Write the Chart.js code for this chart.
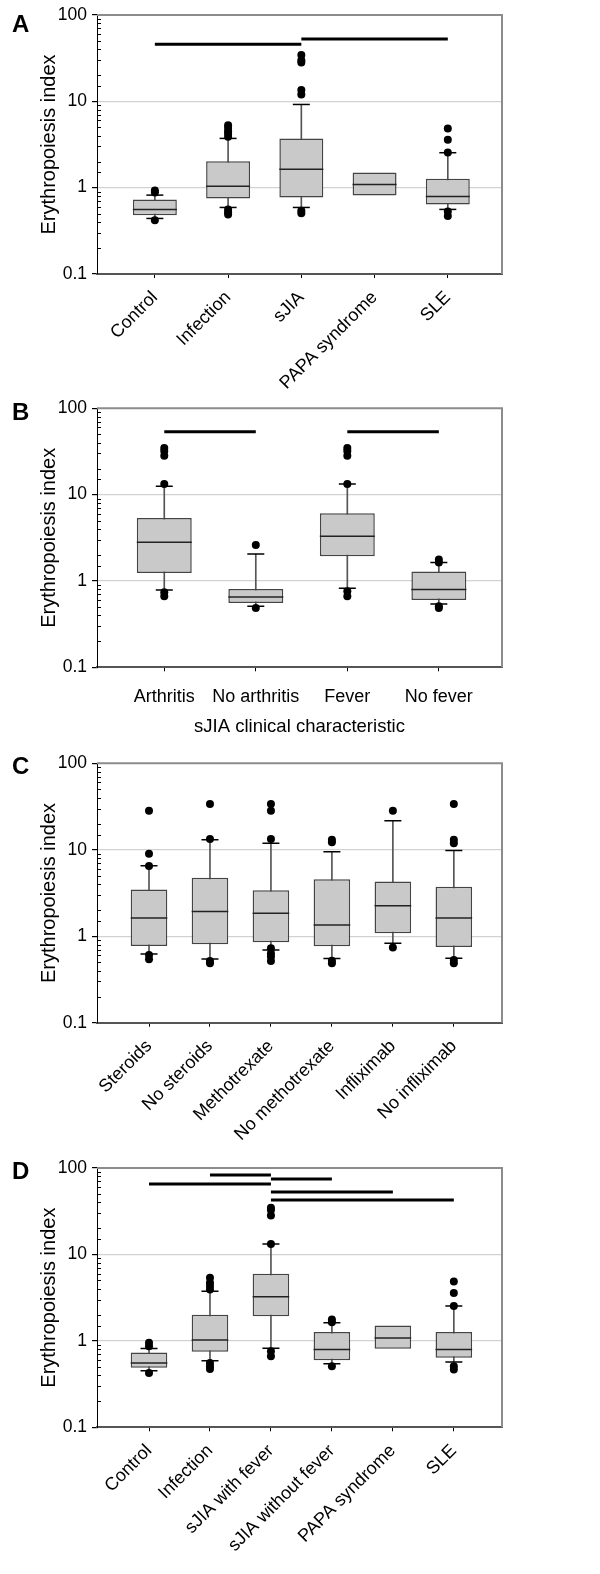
<!DOCTYPE html>
<html>
<head>
<meta charset="utf-8">
<script src="https://cdn.jsdelivr.net/npm/chart.js@4.4.0/dist/chart.umd.min.js"></script>
<style>
  body { margin: 0; background: #fff; }
  #wrap { position: relative; width: 600px; height: 1574px; overflow: hidden; }
  canvas { position: absolute; left: 0; }
  .lbl { position: absolute; left: 12px; font: bold 24px 'Liberation Sans', Arial, sans-serif; line-height: 1; }
</style>
</head>
<body>
<div id="wrap">
  <canvas id="chartA" width="600" height="400" style="top:0px"></canvas>
  <canvas id="chartB" width="600" height="370" style="top:390px"></canvas>
  <canvas id="chartC" width="600" height="410" style="top:745px"></canvas>
  <canvas id="chartD" width="600" height="424" style="top:1150px"></canvas>
  <div class="lbl" style="top:12px">A</div>
  <div class="lbl" style="top:400px">B</div>
  <div class="lbl" style="top:754px">C</div>
  <div class="lbl" style="top:1159px">D</div>
</div>
<script>
// Panel A - patient groups
const catsA = ['Control', 'Infection', 'sJIA', 'PAPA syndrome', 'SLE'];
const q1A  = [0.48, 0.75, 0.77, 0.81, 0.64];
const medA = [0.56, 1.04, 1.63, 1.09, 0.79];
const q3A  = [0.73, 2.02, 3.72, 1.50, 1.27];
const loA  = [0.44, 0.59, 0.59, null, 0.56];
const hiA  = [0.82, 3.72, 9.2, null, 2.54];
const outA = [
  [0.93, 0.88, 0.42],
  [5.3, 4.9, 4.5, 4.2, 3.9, 0.56, 0.52, 0.49],
  [34.3, 30, 28.2, 13.5, 12.0, 0.54, 0.505],
  [],
  [4.86, 3.59, 2.56, 0.53, 0.47]
];
const sigA = [[1, 3, 45.7], [3, 5, 52.6]];

// Panel B - sJIA clinical characteristic
const catsB = ['Arthritis', 'No arthritis', 'Fever', 'No fever'];
const q1B  = [1.24, 0.556, 1.93, 0.603];
const medB = [2.81, 0.653, 3.29, 0.794];
const q3B  = [5.37, 0.808, 6.08, 1.29];
const loB  = [0.787, 0.509, 0.822, 0.541];
const hiB  = [12.5, 2.05, 13.3, 1.64];
const outB = [
  [34.7, 32, 28.3, 13.3, 0.74, 0.665],
  [2.61, 0.486],
  [34.7, 32, 28.3, 13.3, 0.76, 0.665],
  [1.77, 1.64, 0.509, 0.486]
];
const sigB = [[1, 2, 53.6], [3, 4, 53.6]];

// Panel C - treatment
const catsC = ['Steroids', 'No steroids', 'Methotrexate', 'No methotrexate', 'Infliximab', 'No infliximab'];
const q1C  = [0.773, 0.808, 0.852, 0.766, 1.08, 0.752];
const medC = [1.62, 1.93, 1.85, 1.35, 2.25, 1.62];
const q3C  = [3.47, 4.74, 3.41, 4.57, 4.30, 3.73];
const loC  = [0.624, 0.546, 0.695, 0.551, 0.830, 0.556];
const hiC  = [6.53, 13.1, 11.9, 9.48, 21.7, 9.83];
const outC = [
  [28.3, 8.99, 6.5, 0.608, 0.541],
  [33.8, 13.3, 0.518, 0.487],
  [33.8, 28.3, 13.3, 0.726, 0.635, 0.581, 0.518],
  [13.1, 12.2, 0.522, 0.487],
  [28.3, 0.739],
  [33.8, 13.1, 11.9, 0.532, 0.487]
];
const sigC = [];

// Panel D - groups with sJIA split by fever
const catsD = ['Control', 'Infection', 'sJIA with fever', 'sJIA without fever', 'PAPA syndrome', 'SLE'];
const q1D  = [0.487, 0.746, 1.93, 0.597, 0.808, 0.636];
const medD = [0.556, 1.02, 3.23, 0.794, 1.08, 0.794];
const q3D  = [0.733, 2.0, 5.97, 1.27, 1.51, 1.27];
const loD  = [0.45, 0.587, 0.822, 0.542, null, 0.571];
const hiD  = [0.815, 3.76, 13.2, 1.62, null, 2.54];
const outD = [
  [0.948, 0.868, 0.426],
  [5.37, 4.7, 4.3, 3.93, 0.556, 0.509, 0.474],
  [34.7, 32.6, 28.3, 13.2, 0.759, 0.665],
  [1.77, 1.64, 0.509],
  [],
  [4.87, 3.57, 2.54, 0.509, 0.466]
];
const sigD = [[2, 3, 83.0], [3, 4, 74.6], [1, 3, 65.4], [3, 5, 52.9], [3, 6, 42.7]];

const FONT = "'Liberation Sans', Arial, sans-serif";
Chart.defaults.font.family = FONT;
Chart.defaults.color = '#000';

function isMajor(v) {
  const l = Math.log10(v);
  return Math.abs(l - Math.round(l)) < 1e-6;
}

// top/right frame plus small inward minor ticks on the log axis
const frame = {
  id: 'frame',
  afterDatasetsDraw(chart) {
    const { ctx, chartArea: a, scales: { y } } = chart;
    ctx.save();
    ctx.strokeStyle = '#8c8c8c';
    ctx.lineWidth = 2;
    ctx.beginPath();
    ctx.moveTo(a.left, a.top);
    ctx.lineTo(a.right, a.top);
    ctx.lineTo(a.right, a.bottom);
    ctx.stroke();
    ctx.strokeStyle = '#000';
    ctx.lineWidth = 1;
    y.ticks.forEach(t => {
      if (isMajor(t.value)) return;
      const py = Math.round(y.getPixelForValue(t.value)) + 0.5;
      ctx.beginPath();
      ctx.moveTo(a.left, py);
      ctx.lineTo(a.left + 4, py);
      ctx.stroke();
    });
    ctx.restore();
  }
};

function buildDatasets(q1, med, q3, lo, hi, out, sig, medHalf) {
  const idx = q1.map((_, i) => i);
  const ds = [];
  sig.forEach(s => ds.push({
    type: 'line',
    data: [{ x: s[0], y: s[2] }, { x: s[1], y: s[2] }],
    borderColor: '#000', borderWidth: 3, pointRadius: 0, order: 0
  }));
  const dots = [];
  out.forEach((arr, i) => arr.forEach(v => dots.push({ x: i + 1, y: v })));
  ds.push({
    type: 'scatter', data: dots, pointRadius: 4,
    backgroundColor: '#000', borderWidth: 0, order: 1
  });
  const caps = [];
  idx.forEach(i => {
    if (lo[i] != null) caps.push({ x: i + 1, y: lo[i] });
    if (hi[i] != null) caps.push({ x: i + 1, y: hi[i] });
  });
  ds.push({
    type: 'scatter', data: caps, pointStyle: 'line', pointRadius: 8.5,
    borderColor: '#000', borderWidth: 1.5, order: 2
  });
  ds.push({
    type: 'scatter', data: idx.map(i => ({ x: i + 1, y: med[i] })),
    pointStyle: 'line', pointRadius: medHalf,
    borderColor: '#222', borderWidth: 1.5, order: 3
  });
  ds.push({
    type: 'bar', data: idx.map(i => ({ x: i + 1, y: [q1[i], q3[i]] })),
    backgroundColor: '#c9c9c9', borderColor: '#444', borderWidth: 1.5,
    borderSkipped: false, barPercentage: 0.6, categoryPercentage: 1,
    grouped: false, order: 4
  });
  ds.push({
    type: 'bar',
    data: idx.filter(i => lo[i] != null).map(i => ({ x: i + 1, y: [lo[i], hi[i]] })),
    backgroundColor: '#555', borderWidth: 0, barThickness: 1,
    grouped: false, order: 5
  });
  return ds;
}

function makePanel(id, cats, q1, med, q3, lo, hi, out, sig, lay) {
  new Chart(document.getElementById(id), {
    type: 'bar',
    data: { datasets: buildDatasets(q1, med, q3, lo, hi, out, sig, lay.medHalf) },
    options: {
      responsive: false,
      animation: false,
      devicePixelRatio: 1,
      events: [],
      layout: { autoPadding: false, padding: { left: 0, right: 98, top: lay.top, bottom: 0 } },
      plugins: { legend: { display: false }, tooltip: { enabled: false } },
      scales: {
        x: {
          type: 'linear', min: lay.xMin, max: lay.xMax, offset: false,
          afterFit: s => { s.height = lay.xHeight; s.paddingLeft = 0; s.paddingRight = 0; },
          afterBuildTicks: s => { s.ticks = cats.map((c, i) => ({ value: i + 1 })); },
          ticks: {
            autoSkip: false, minRotation: lay.rot, maxRotation: lay.rot,
            padding: lay.tickPad, color: '#000',
            font: { size: 18 },
            callback: v => cats[v - 1]
          },
          grid: { drawOnChartArea: false, tickLength: 4, color: '#000', offset: false },
          border: { color: '#555', width: 2 },
          title: {
            display: !!lay.xTitle, text: lay.xTitle || '', color: '#000',
            font: { size: 18.5, lineHeight: 1.2 }, padding: { top: 0, bottom: lay.xTitlePad || 0 }
          }
        },
        y: {
          type: 'logarithmic', min: 0.1, max: 100,
          afterFit: s => { s.width = 97; s.paddingTop = 0; s.paddingBottom = 0; },
          ticks: {
            autoSkip: false, padding: 5, color: '#000',
            font: { size: 17.5 },
            callback: v => isMajor(v) ? String(Number(v)) : ''
          },
          grid: {
            color: c => (c.tick && (c.tick.value === 1 || c.tick.value === 10)) ? '#d2d2d2' : 'rgba(0,0,0,0)',
            tickColor: c => (c.tick && isMajor(c.tick.value)) ? '#000' : 'rgba(0,0,0,0)',
            lineWidth: 1.2, tickLength: 5
          },
          border: { color: '#000', width: 1 },
          title: {
            display: true, text: 'Erythropoiesis index', color: '#000',
            font: { size: 20, lineHeight: 1.2 }, padding: { top: 37, bottom: 0 }
          }
        }
      }
    },
    plugins: [frame]
  });
}

makePanel('chartA', catsA, q1A, medA, q3A, loA, hiA, outA, sigA,
  { top: 15, xHeight: 126, xMin: 0.21, xMax: 5.74, rot: 45, tickPad: 9, medHalf: 22 });
makePanel('chartB', catsB, q1B, medB, q3B, loB, hiB, outB, sigB,
  { top: 18.3, xHeight: 92.7, xMin: 0.265, xMax: 4.69, rot: 0, tickPad: 15, medHalf: 27.5,
    xTitle: 'sJIA clinical characteristic', xTitlePad: 22 });
makePanel('chartC', catsC, q1C, medC, q3C, loC, hiC, outC, sigC,
  { top: 18.3, xHeight: 132.3, xMin: 0.147, xMax: 6.79, rot: 45, tickPad: 9, medHalf: 18.3 });
makePanel('chartD', catsD, q1D, medD, q3D, loD, hiD, outD, sigD,
  { top: 18, xHeight: 146.7, xMin: 0.147, xMax: 6.79, rot: 45, tickPad: 9, medHalf: 18.3 });
</script>
</body>
</html>
